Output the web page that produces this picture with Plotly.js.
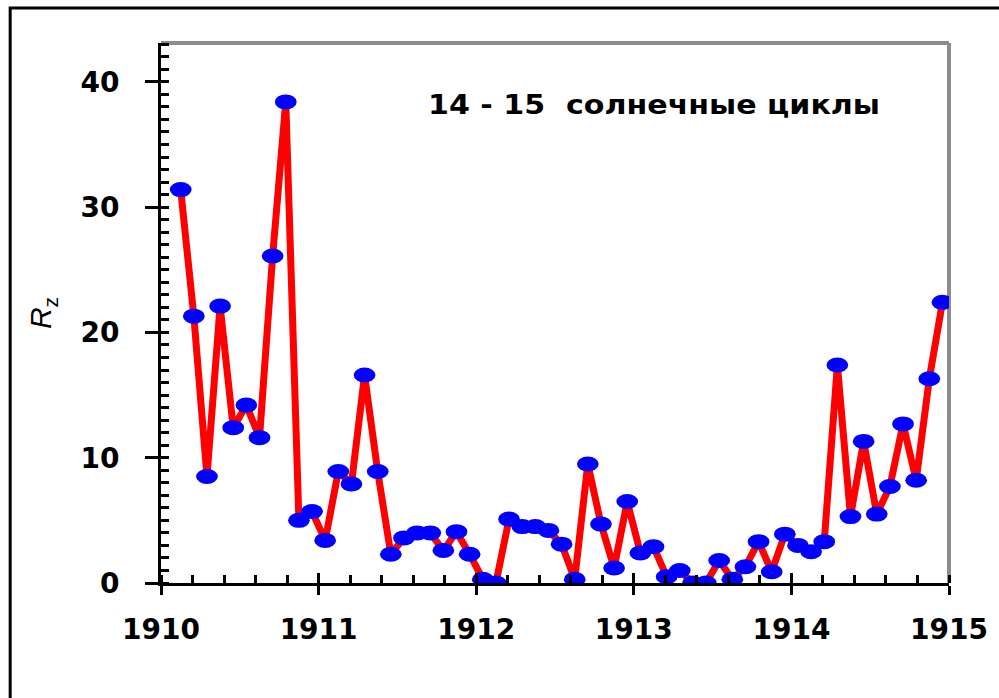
<!DOCTYPE html>
<html>
<head>
<meta charset="utf-8">
<script src="https://cdn.plot.ly/plotly-3.0.1.min.js"></script>
<style>
  html, body { margin: 0; padding: 0; background: #fff; overflow: hidden; }
  #chart { width: 999px; height: 698px; }
</style>
</head>
<body>
<div id="chart"></div>
<script>
// Monthly relative sunspot number Rz, February 1910 – December 1914
const years = [1910, 1911, 1912, 1913, 1914];
const firstMonth = [2, 1, 1, 1, 1];          // first month plotted in each year
const rz1910 = [31.4, 21.3, 8.5, 22.1, 12.4, 14.2, 11.6, 26.1, 38.4, 5.0, 5.7];
const rz1911 = [3.4, 8.9, 7.9, 16.6, 8.9, 2.3, 3.6, 4.0, 4.0, 2.6, 4.1, 2.3];
const rz1912 = [0.3, 0.0, 5.1, 4.5, 4.5, 4.2, 3.1, 0.3, 9.5, 4.7, 1.2, 6.5];
const rz1913 = [2.4, 2.9, 0.5, 1.0, 0.0, 0.0, 1.8, 0.3, 1.3, 3.3, 0.9, 3.9];
const rz1914 = [3.0, 2.5, 3.3, 17.4, 5.3, 11.3, 5.5, 7.7, 12.7, 8.2, 16.3, 22.4];
const rzByYear = [rz1910, rz1911, rz1912, rz1913, rz1914];

const xTickVals = [1910, 1911, 1912, 1913, 1914, 1915];
const xTickText = ['1910', '1911', '1912', '1913', '1914', '1915'];
const yTickVals = [0, 10, 20, 30, 40];
const yTickText = ['0', '10', '20', '30', '40'];
const titleText = '14 - 15  солнечные циклы';
const yTitle = '<i>R</i><sub>z</sub>';

// decimal-year position at the middle of each month
const xs = [], ys = [];
rzByYear.forEach((vals, k) => {
  vals.forEach((v, j) => {
    const month = firstMonth[k] + j;
    xs.push(years[k] + (month - 0.5) / 12);
    ys.push(v);
  });
});

const tickFont = { family: 'DejaVu Sans', size: 28, color: '#000', weight: 'bold' };

const trace = {
  x: xs, y: ys, type: 'scatter', mode: 'lines+markers',
  line: { color: '#ff0000', width: 7 },
  marker: { color: '#0000ff', size: 15, line: { width: 0 } },
  hoverinfo: 'none', showlegend: false
};
const dummy = { x: [1910], y: [0], xaxis: 'x2', yaxis: 'y2', mode: 'markers',
  marker: { opacity: 0 }, hoverinfo: 'none', showlegend: false };

const layout = {
  width: 999, height: 698,
  margin: { l: 161, r: 50, t: 43, b: 115 },
  paper_bgcolor: '#fff', plot_bgcolor: '#fff',
  xaxis: {
    range: [1910, 1915], tickmode: 'array', tickvals: xTickVals, ticktext: xTickText,
    ticks: 'outside', ticklen: 9, tickwidth: 3, tickcolor: '#000',
    showline: true, linecolor: '#000', linewidth: 3, showgrid: false, zeroline: false,
    tickfont: tickFont, ticklabelstandoff: 10,
    minor: { dtick: 0.2, tick0: 1910, ticks: 'inside', ticklen: 8, tickwidth: 3, tickcolor: '#000', showgrid: false }
  },
  yaxis: {
    range: [0, 43.1], tickmode: 'array', tickvals: yTickVals, ticktext: yTickText,
    ticks: 'outside', ticklen: 13, tickwidth: 3, tickcolor: '#000',
    showline: true, linecolor: '#000', linewidth: 3, showgrid: false, zeroline: false,
    tickfont: tickFont, ticklabelstandoff: 20,
    minor: { dtick: 1, tick0: 0, ticks: 'inside', ticklen: 8, tickwidth: 3, tickcolor: '#000', showgrid: false },
    title: { text: yTitle, font: { family: 'Liberation Sans', size: 30, color: '#000' }, standoff: 20 }
  },
  xaxis2: {
    overlaying: 'x', matches: 'x', anchor: 'y2', side: 'bottom',
    tickmode: 'array', tickvals: xTickVals, ticks: 'inside', ticklen: 10, tickwidth: 3, tickcolor: '#000',
    showticklabels: false, showline: false, showgrid: false, zeroline: false
  },
  yaxis2: {
    overlaying: 'y', matches: 'y', anchor: 'x2', side: 'left',
    tickmode: 'array', tickvals: yTickVals, ticks: 'inside', ticklen: 6, tickwidth: 3, tickcolor: '#000',
    showticklabels: false, showline: false, showgrid: false, zeroline: false
  },
  shapes: [
    { type: 'line', xref: 'paper', yref: 'paper', x0: 0, x1: 1, y0: 1, y1: 1,
      line: { color: '#8c8c8c', width: 4 }, layer: 'below' },
    { type: 'line', xref: 'paper', yref: 'paper', x0: 1, x1: 1, y0: 0, y1: 1,
      line: { color: '#8c8c8c', width: 4 }, layer: 'below' },
    { type: 'rect', xref: 'paper', yref: 'paper', x0: -0.1914, x1: 1.2, y0: -0.4, y1: 1.0648,
      line: { color: '#000', width: 3 }, fillcolor: 'rgba(0,0,0,0)' }
  ],
  annotations: [
    { text: titleText, xref: 'paper', yref: 'paper', x: 0.625, y: 0.887,
      xanchor: 'center', yanchor: 'middle', showarrow: false,
      font: { family: 'DejaVu Sans', size: 27, color: '#000', weight: 'bold' } }
  ]
};

Plotly.newPlot('chart', [trace, dummy], layout, { displayModeBar: false, staticPlot: true }).then(() => {
  // stretch the round markers horizontally into ellipses like the original
  document.querySelectorAll('.scatterlayer .trace:first-child path.point').forEach(p => {
    const t = p.getAttribute('transform') || '';
    p.setAttribute('transform', t + ' scale(1.45,1)');
  });
  // widen the heading to the original's letter-spaced width
  const ann = document.querySelector('.annotation-text');
  if (ann) {
    ann.setAttribute('textLength', '452');
    ann.setAttribute('lengthAdjust', 'spacingAndGlyphs');
  }
});
</script>
</body>
</html>
